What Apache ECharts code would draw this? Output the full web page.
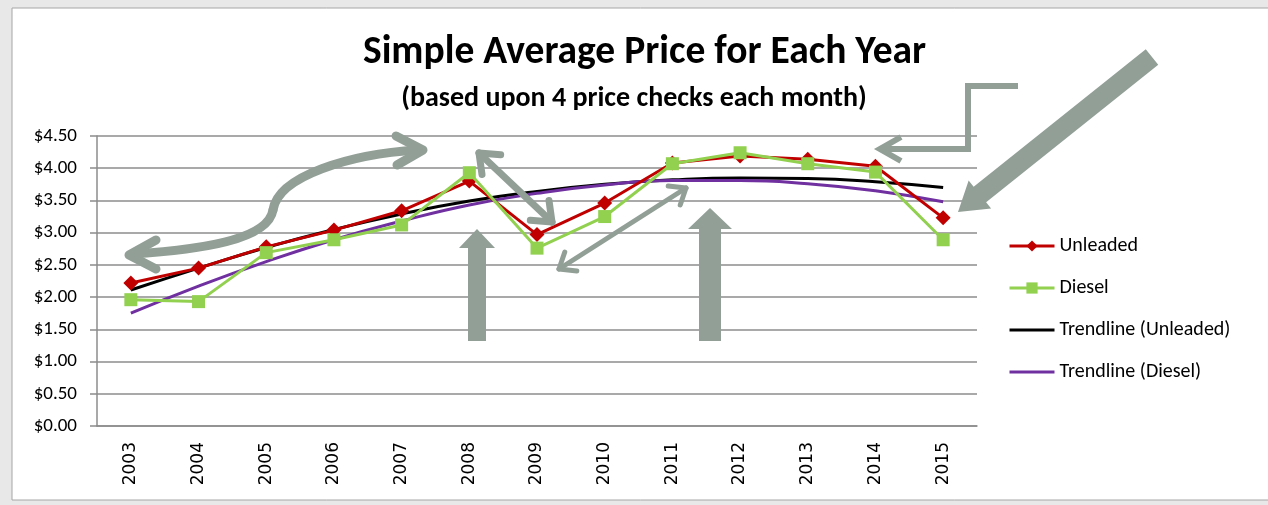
<!DOCTYPE html>
<html>
<head>
<meta charset="utf-8">
<script src="https://cdn.jsdelivr.net/npm/echarts@6/dist/echarts.min.js"></script>
<style>
  html, body { margin: 0; padding: 0; background: #e8e8e8; }
  #chart { width: 1268px; height: 505px; }
</style>
</head>
<body>
<div id="chart"></div>
<script>
  // 年份 / 价格数据
  var years = ['2003', '2004', '2005', '2006', '2007', '2008', '2009', '2010', '2011', '2012', '2013', '2014', '2015'];
  var unleaded = [2.22, 2.45, 2.78, 3.04, 3.34, 3.80, 2.97, 3.46, 4.08, 4.19, 4.14, 4.03, 3.23];
  var diesel = [1.96, 1.93, 2.69, 2.89, 3.12, 3.93, 2.76, 3.25, 4.07, 4.24, 4.07, 3.94, 2.89];
  var trendUnleaded = [2.11, 2.45, 2.77, 3.05, 3.29, 3.49, 3.64, 3.75, 3.82, 3.85, 3.84, 3.79, 3.70];
  var trendDiesel = [1.75, 2.17, 2.55, 2.89, 3.18, 3.43, 3.61, 3.74, 3.81, 3.81, 3.76, 3.65, 3.48];

  var arrowColor = '#929f97';
  var font = 'Carlito, Lato, "Liberation Sans", sans-serif';

  // 实心箭头 (多边形)
  function solidArrow(x1, y1, x2, y2, shaftW, headW, headL) {
    var dx = x2 - x1, dy = y2 - y1;
    var len = Math.sqrt(dx * dx + dy * dy);
    var ux = dx / len, uy = dy / len;
    var px = -uy, py = ux;
    var bx = x2 - ux * headL, by = y2 - uy * headL;
    var s = shaftW / 2, h = headW / 2;
    return {
      type: 'polygon', z: 100,
      shape: { points: [
        [x1 + px * s, y1 + py * s], [bx + px * s, by + py * s], [bx + px * h, by + py * h],
        [x2, y2],
        [bx - px * h, by - py * h], [bx - px * s, by - py * s], [x1 - px * s, y1 - py * s]
      ] },
      style: { fill: arrowColor }
    };
  }

  // 箭头两翼
  function head(x1, y1, x2, y2, l) {
    var dx = x2 - x1, dy = y2 - y1;
    var len = Math.sqrt(dx * dx + dy * dy);
    var ux = dx / len, uy = dy / len;
    var px = -uy, py = ux;
    return [[x2 - ux * l + px * l * 0.8, y2 - uy * l + py * l * 0.8], [x2, y2],
      [x2 - ux * l - px * l * 0.8, y2 - uy * l - py * l * 0.8]];
  }

  function lineArrow(x1, y1, x2, y2, w, l) {
    var st = { stroke: arrowColor, lineWidth: w, lineCap: 'round', lineJoin: 'round', fill: null };
    return [
      { type: 'polyline', z: 100, shape: { points: [[x1, y1], [x2, y2]] }, style: st },
      { type: 'polyline', z: 100, shape: { points: head(x1, y1, x2, y2, l) }, style: st },
      { type: 'polyline', z: 100, shape: { points: head(x2, y2, x1, y1, l) }, style: st }
    ];
  }

  var curveStyle = { stroke: arrowColor, lineWidth: 9, lineCap: 'round', lineJoin: 'round', fill: null };
  var elbowStyle = { stroke: arrowColor, lineWidth: 6, lineCap: 'butt', lineJoin: 'miter', fill: null };

  var graphics = [
    { type: 'rect', z: -10, shape: { x: 12, y: 8, width: 1262, height: 492 },
      style: { fill: '#fff', stroke: '#a6a6a6', lineWidth: 1 } },
    { type: 'bezierCurve', z: 100,
      shape: { x1: 132, y1: 254, cpx1: 200, cpy1: 250, cpx2: 268, cpy2: 240, x2: 273, y2: 210 }, style: curveStyle },
    { type: 'bezierCurve', z: 100,
      shape: { x1: 273, y1: 210, cpx1: 278, cpy1: 176, cpx2: 350, cpy2: 154, x2: 418, y2: 150 }, style: curveStyle },
    { type: 'polyline', z: 100, shape: { points: [[156, 240], [129, 255], [156, 269]] }, style: curveStyle },
    { type: 'polyline', z: 100, shape: { points: [[396, 136], [423, 150], [397, 165]] }, style: curveStyle },
    { type: 'polyline', z: 100, shape: { points: [[1018, 86], [968, 86], [968, 149], [880, 149]] }, style: elbowStyle },
    { type: 'polyline', z: 100, shape: { points: [[901, 137], [880, 149], [901, 161]] }, style: elbowStyle },
    solidArrow(477, 341, 477, 229, 18, 36, 19),
    solidArrow(710, 341, 710, 208, 22, 44, 21),
    solidArrow(1152, 57, 958, 212, 20, 36, 28)
  ].concat(lineArrow(479, 153, 552, 222, 7, 17)).concat(lineArrow(559, 269, 686, 188, 5, 14));

  var myChart = echarts.init(document.getElementById('chart'));
  var option = {
    backgroundColor: '#e8e8e8',
    animation: false,
    title: [{
      text: 'Simple Average Price for Each Year',
      left: 358,
      top: 28,
      textStyle: { fontFamily: font, fontSize: 39.5, fontWeight: 'bold', color: '#000' }
    }, {
      text: '(based upon 4 price checks each month)',
      left: 'center',
      top: 80,
      textStyle: { fontFamily: font, fontSize: 28, fontWeight: 'bold', color: '#000' }
    }],
    legend: {
      orient: 'vertical',
      left: 1003,
      top: 231,
      itemGap: 22,
      itemWidth: 45,
      itemHeight: 14,
      lineStyle: { width: 3 },
      textStyle: { fontFamily: font, fontSize: 20, color: '#000' },
      data: ['Unleaded', 'Diesel',
        { name: 'Trendline (Unleaded)', itemStyle: { opacity: 0 } },
        { name: 'Trendline (Diesel)', itemStyle: { opacity: 0 } }]
    },
    grid: { left: 97, right: 291, top: 136, bottom: 79 },
    xAxis: {
      type: 'category',
      data: years,
      boundaryGap: true,
      axisLine: { lineStyle: { color: '#8c8c8c', width: 1.5 } },
      axisTick: { length: 8, interval: 0, lineStyle: { color: '#8c8c8c', width: 1.5 } },
      axisLabel: {
        rotate: 90, margin: 16, interval: 0, fontFamily: '"DejaVu Sans", sans-serif', fontSize: 17, color: '#000',
        formatter: function (v) { return '{t|' + v + '}'; },
        rich: { t: { fontFamily: '"DejaVu Sans", sans-serif', fontSize: 17, color: '#000' } }
      }
    },
    yAxis: {
      type: 'value',
      min: 0,
      max: 4.5,
      interval: 0.5,
      axisLine: { show: true, lineStyle: { color: '#8c8c8c', width: 1.5 } },
      axisTick: { show: true, length: 7, lineStyle: { color: '#8c8c8c', width: 1.5 } },
      axisLabel: {
        fontFamily: font, fontSize: 19, color: '#000', margin: 20,
        formatter: function (v) { return '{p|$' + v.toFixed(2) + '}'; },
        rich: { p: { fontFamily: font, fontSize: 19, color: '#000' } }
      },
      splitLine: { lineStyle: { color: '#8c8c8c', width: 1.5 } }
    },
    series: [{
      name: 'Trendline (Unleaded)',
      type: 'line',
      data: trendUnleaded,
      smooth: true,
      symbol: 'none',
      z: 3,
      lineStyle: { color: '#000', width: 3 },
      itemStyle: { color: '#000' }
    }, {
      name: 'Trendline (Diesel)',
      type: 'line',
      data: trendDiesel,
      smooth: true,
      symbol: 'none',
      z: 3,
      lineStyle: { color: '#7030a0', width: 3 },
      itemStyle: { color: '#7030a0' }
    }, {
      name: 'Unleaded',
      type: 'line',
      data: unleaded,
      symbol: 'diamond',
      symbolSize: 15,
      z: 4,
      lineStyle: { color: '#c00000', width: 3 },
      itemStyle: { color: '#c00000' }
    }, {
      name: 'Diesel',
      type: 'line',
      data: diesel,
      symbol: 'rect',
      symbolSize: 13,
      z: 5,
      lineStyle: { color: '#92d050', width: 3 },
      itemStyle: { color: '#92d050' }
    }],
    graphic: graphics
  };
  myChart.setOption(option);
</script>
</body>
</html>
